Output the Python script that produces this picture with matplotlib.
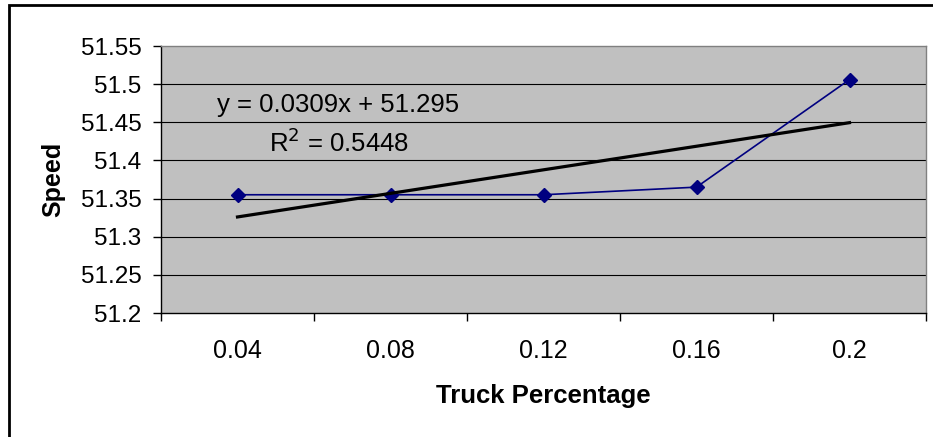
import matplotlib
matplotlib.use("Agg")
import matplotlib.pyplot as plt
from matplotlib.patches import Rectangle
import numpy as np

plt.rcParams['font.family'] = ['Liberation Sans', 'DejaVu Sans']

categories = ["0.04", "0.08", "0.12", "0.16", "0.2"]
speed = [51.355, 51.355, 51.355, 51.365, 51.506]
slope = 0.0309
intercept = 51.295
r2 = 0.5448
yticks = [51.2, 51.25, 51.3, 51.35, 51.4, 51.45, 51.5, 51.55]
ytick_labels = ["51.2", "51.25", "51.3", "51.35", "51.4", "51.45", "51.5", "51.55"]

W, H = 933, 437
fig = plt.figure(figsize=(W / 100, H / 100), dpi=100)
fig.patch.set_facecolor("white")

# outer chart border (left and top visible)
fig.patches.append(Rectangle((9 / W, -0.05), 1.2, (H - 5) / H + 0.05,
                             transform=fig.transFigure, fill=False,
                             edgecolor="black", linewidth=2.0, zorder=0))

L, R, T, B = 161, 926, 46, 313
ax = fig.add_axes([L / W, (H - B) / H, (R - L) / W, (B - T) / H])
ax.set_facecolor("#C0C0C0")

x = np.arange(1, len(categories) + 1)
ax.set_xlim(0.5, len(categories) + 0.5)
ax.set_ylim(yticks[0], yticks[-1])

for yv in yticks[1:-1]:
    ax.axhline(yv, color="black", linewidth=0.8, zorder=1)

ax.plot(x, speed, color="#000080", linewidth=1.2, marker="D",
        markersize=7.2, markerfacecolor="#000080", markeredgecolor="#000080", zorder=3)

xt = np.array([x[0], x[-1]])
ax.plot(xt, slope * xt + intercept, color="black", linewidth=2.3, zorder=4)

ax.set_yticks(yticks)
ax.set_yticklabels(ytick_labels)
ax.set_xticks(x)
ax.set_xticklabels(categories)
ax.set_xticks(np.arange(0.5, len(categories) + 1.0, 1.0), minor=True)
ax.tick_params(axis="x", which="major", length=0, pad=19, labelsize=18)
ax.tick_params(axis="x", which="minor", length=6, width=1, color="black")
ax.tick_params(axis="y", length=6, width=1, pad=8, labelsize=17.5)

for s in ["left", "bottom"]:
    ax.spines[s].set_color("black")
    ax.spines[s].set_linewidth(1.0)
for s in ["top", "right"]:
    ax.spines[s].set_color("#808080")
    ax.spines[s].set_linewidth(1.0)

ax.set_xlabel("Truck Percentage", fontsize=18.5, fontweight="bold", labelpad=15)
ax.set_ylabel("Speed", fontsize=18, fontweight="bold", labelpad=11)

def px(xp, yp):
    return ((xp - L) / (R - L), (B - yp) / (B - T))

ax.text(*px(338, 105), "y = 0.0309x + 51.295", transform=ax.transAxes,
        ha="center", va="center", fontsize=18.5, zorder=5)
ax.text(*px(339, 143), "R$^2$ = 0.5448", transform=ax.transAxes,
        ha="center", va="center", fontsize=18.5, zorder=5)

fig.savefig("out.png", dpi=100)
